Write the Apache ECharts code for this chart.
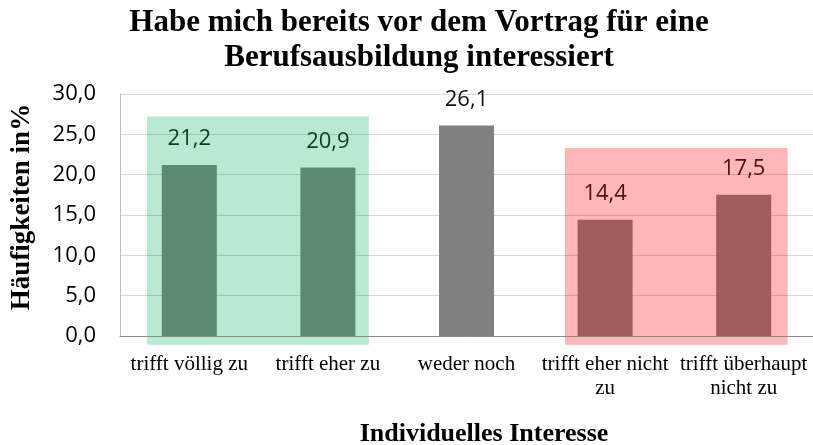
<!DOCTYPE html>
<html>
<head>
<meta charset="utf-8">
<script src="https://cdn.jsdelivr.net/npm/echarts@6/dist/echarts.min.js"></script>
<style>
html,body{margin:0;padding:0;background:#fff;}
#chart{width:813px;height:445px;}
</style>
</head>
<body>
<div id="chart"></div>
<script>
const categories = ['trifft völlig zu', 'trifft eher zu', 'weder noch', 'trifft eher nicht zu', 'trifft überhaupt nicht zu'];
const xTickLabels = ['trifft völlig zu', 'trifft eher zu', 'weder noch', 'trifft eher nicht\nzu', 'trifft überhaupt\nnicht zu'];
const values = [21.2, 20.9, 26.1, 14.4, 17.5];
const yTicks = [0, 5, 10, 15, 20, 25, 30];
const titleText = 'Habe mich bereits vor dem Vortrag für eine\nBerufsausbildung interessiert';
const xName = 'Individuelles Interesse';
const yName = 'Häufigkeiten in%';

// bar colours per category
const barColors = ['#5d8b72', '#5d8b72', '#7f7f7f', '#a15c5c', '#a15c5c'];
const labelColors = ['#0f3a22', '#0f3a22', '#111111', '#4f1010', '#4f1010'];

// background highlight bands: [startCategory, endCategory, topValue, bottomValue]
const bands = [
  {range: [0, 1, 27.2, -1.1], color: '#b8e9d1', padL: 0.305, padR: 0.295},
  {range: [3, 4, 23.3, -1.1], color: '#ffb6b6', padL: 0.29, padR: 0.317}
];

const fmt = v => v.toFixed(1).replace('.', ',');

const chart = echarts.init(document.getElementById('chart'), null, {renderer: 'canvas'});
chart.setOption({
  backgroundColor: '#ffffff',
  animation: false,
  title: [
    {
      text: titleText,
      left: 419, top: 5, textAlign: 'center', padding: 0,
      textStyle: {fontFamily: 'Liberation Serif', fontWeight: 'bold', fontSize: 31, lineHeight: 35, color: '#000'}
    },
    {
      text: xName,
      left: 484, top: 421, textAlign: 'center', padding: 0,
      textStyle: {fontFamily: 'Liberation Serif', fontWeight: 'bold', fontSize: 26, lineHeight: 26, color: '#000'}
    }
  ],
  grid: {left: 120, top: 94, width: 694, height: 242, containLabel: false},
  xAxis: {
    type: 'category',
    data: categories,
    axisLine: {show: true, lineStyle: {color: '#8c8c8c', width: 1}},
    axisTick: {show: false},
    axisLabel: {
      interval: 0, margin: 16,
      fontFamily: 'Liberation Serif', fontSize: 21, lineHeight: 24, color: '#000',
      formatter: (v, i) => xTickLabels[i]
    },
    splitLine: {show: false}
  },
  yAxis: {
    type: 'value',
    min: yTicks[0], max: yTicks[yTicks.length - 1], interval: yTicks[1] - yTicks[0],
    name: yName,
    nameLocation: 'middle',
    nameRotate: 90,
    nameGap: 84,
    nameTextStyle: {fontFamily: 'Liberation Serif', fontWeight: 'bold', fontSize: 27, color: '#000', padding: [0, 0, 0, 16]},
    axisLine: {show: true, lineStyle: {color: '#bfbfbf', width: 1}},
    axisTick: {show: false},
    axisLabel: {margin: 24, fontFamily: 'Open Sans', fontSize: 22, color: '#000', formatter: v => fmt(v)},
    splitLine: {show: true, lineStyle: {color: 'rgba(0,0,0,0.15)', width: 1}}
  },
  series: [
    {
      type: 'custom',
      z: -1,
      silent: true,
      clip: false,
      data: bands.map(b => ({value: b.range})),
      renderItem: function (params, api) {
        const b = bands[params.dataIndex];
        const p1 = api.coord([api.value(0), api.value(2)]);
        const p2 = api.coord([api.value(1), api.value(3)]);
        const bw = api.size([1, 0])[0];
        const x1 = p1[0] - b.padL * bw;
        const x2 = p2[0] + b.padR * bw;
        return {
          type: 'rect',
          shape: {x: x1, y: p1[1], width: x2 - x1, height: p2[1] - p1[1]},
          style: {fill: b.color}
        };
      },
      encode: {x: 0, y: 2}
    },
    {
      type: 'bar',
      barWidth: 55,
      z: 3,
      data: values.map((v, i) => ({
        value: v,
        itemStyle: {color: barColors[i]},
        label: {color: labelColors[i]}
      })),
      label: {
        show: true, position: 'top', distance: 15,
        fontFamily: 'Open Sans', fontSize: 22,
        formatter: p => fmt(p.value)
      }
    }
  ]
});
</script>
</body>
</html>
